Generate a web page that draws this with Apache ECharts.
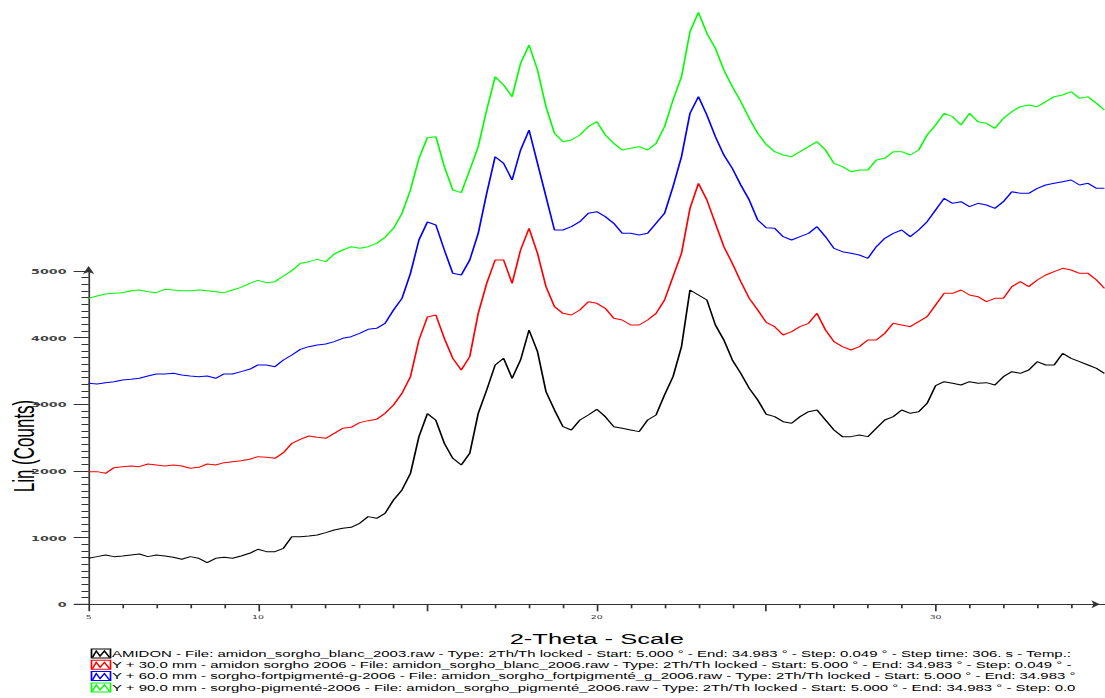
<!DOCTYPE html>
<html>
<head>
<meta charset="utf-8">
<title>2-Theta - Scale</title>
<script src="https://cdn.jsdelivr.net/npm/echarts@6/dist/echarts.min.js"></script>
<style>
  html, body { margin: 0; padding: 0; background: #ffffff; overflow: hidden; width: 1105px; height: 698px; }
  #chart { position: absolute; left: 0; top: 0; height: 698px; transform-origin: 0 0; }
</style>
</head>
<body>
<div id="chart"></div>
<script>
// Diffractogram is drawn in a narrow frame and stretched horizontally, like the instrument export.
const STRETCH = 1.7;
const PAGE_W = 1105;

// 2-theta sampling (degrees)
const thetaStart = 5.0;
const thetaStep = 0.25;
const thetaEnd = 34.983;

// Plotted intensities (Lin counts, including the Y offsets of the stacked scans)
const amidon = [
  690, 715, 740, 715, 725, 740, 755, 715, 740, 725,
  705, 675, 715, 690, 625, 690, 705, 690, 725, 765,
  825, 790, 790, 840, 1015, 1015, 1025, 1040, 1075, 1115,
  1140, 1155, 1215, 1315, 1290, 1365, 1565, 1715, 1965, 2515,
  2860, 2760, 2415, 2190, 2090, 2265, 2865, 3215, 3590, 3690,
  3390, 3665, 4115, 3790, 3190, 2915, 2665, 2615, 2765, 2840,
  2925, 2815, 2665, 2640, 2615, 2590, 2765, 2840, 3140, 3415,
  3865, 4715, 4640, 4565, 4190, 3965, 3665, 3465, 3240, 3065,
  2850, 2815, 2740, 2715, 2815, 2890, 2915, 2765, 2615, 2515,
  2515, 2540, 2515, 2640, 2765, 2815, 2915, 2865, 2890, 3015,
  3280, 3340, 3315, 3290, 3340, 3315, 3325, 3290, 3415, 3490,
  3465, 3515, 3640, 3590, 3590, 3765, 3690, 3640, 3590, 3540,
  3465
];
const sorgho2006 = [
  1990, 1990, 1965, 2050, 2065, 2075, 2065, 2105, 2090, 2075,
  2090, 2075, 2040, 2055, 2105, 2090, 2125, 2140, 2155, 2175,
  2215, 2205, 2190, 2275, 2415, 2475, 2525, 2505, 2490, 2565,
  2640, 2655, 2725, 2755, 2775, 2865, 2990, 3165, 3415, 3965,
  4310, 4340, 3990, 3690, 3515, 3715, 4365, 4815, 5165, 5165,
  4815, 5315, 5640, 5265, 4765, 4465, 4365, 4340, 4415, 4540,
  4515, 4440, 4290, 4265, 4190, 4190, 4265, 4365, 4565, 4915,
  5265, 5940, 6315, 6065, 5715, 5365, 5115, 4840, 4590, 4415,
  4230, 4165, 4040, 4090, 4165, 4215, 4365, 4115, 3940, 3865,
  3815, 3865, 3965, 3965, 4065, 4215, 4190, 4165, 4240, 4315,
  4490, 4665, 4665, 4715, 4640, 4615, 4540, 4590, 4590, 4765,
  4840, 4765, 4865, 4940, 4990, 5040, 5015, 4965, 4965, 4865,
  4740
];
const fortPigmente = [
  3315, 3305, 3325, 3340, 3365, 3375, 3390, 3425, 3455, 3455,
  3465, 3440, 3425, 3415, 3425, 3390, 3455, 3455, 3490, 3525,
  3590, 3590, 3565, 3665, 3740, 3825, 3865, 3890, 3905, 3940,
  3990, 4015, 4065, 4125, 4140, 4215, 4415, 4590, 4965, 5465,
  5735, 5690, 5315, 4965, 4940, 5165, 5565, 6165, 6715, 6615,
  6365, 6815, 7115, 6615, 6115, 5615, 5615, 5665, 5740, 5865,
  5890, 5815, 5715, 5565, 5565, 5540, 5565, 5715, 5865, 6265,
  6715, 7365, 7615, 7340, 7015, 6740, 6540, 6290, 6065, 5765,
  5650, 5640, 5515, 5465, 5515, 5565, 5665, 5515, 5340, 5290,
  5265, 5240, 5190, 5365, 5490, 5565, 5615, 5515, 5615, 5740,
  5915, 6090, 6015, 6040, 5965, 6015, 5990, 5940, 6040, 6190,
  6165, 6165, 6240, 6290, 6315, 6340, 6365, 6290, 6315, 6240,
  6240
];
const pigmente = [
  4590, 4625, 4655, 4665, 4675, 4705, 4715, 4690, 4675, 4725,
  4715, 4705, 4705, 4715, 4705, 4690, 4675, 4715, 4755, 4815,
  4860, 4825, 4840, 4925, 5005, 5115, 5140, 5175, 5140, 5255,
  5315, 5365, 5340, 5365, 5415, 5505, 5640, 5865, 6215, 6690,
  7000, 7015, 6565, 6215, 6175, 6515, 6865, 7415, 7915, 7790,
  7615, 8115, 8390, 8015, 7465, 7065, 6940, 6965, 7040, 7165,
  7240, 7040, 6915, 6815, 6840, 6865, 6815, 6915, 7165, 7565,
  7915, 8590, 8880, 8565, 8340, 8015, 7765, 7540, 7290, 7065,
  6900, 6790, 6740, 6715, 6790, 6865, 6940, 6815, 6615, 6565,
  6490, 6515, 6515, 6665, 6690, 6790, 6790, 6740, 6815, 7040,
  7190, 7365, 7315, 7190, 7365, 7240, 7215, 7140, 7290, 7390,
  7465, 7490, 7465, 7540, 7615, 7640, 7690, 7590, 7615, 7515,
  7415
];

const scanNames = [
  'AMIDON - File: amidon_sorgho_blanc_2003.raw - Type: 2Th/Th locked - Start: 5.000 ° - End: 34.983 ° - Step: 0.049 ° - Step time: 306. s - Temp.:',
  'Y + 30.0 mm - amidon sorgho 2006 - File: amidon_sorgho_blanc_2006.raw - Type: 2Th/Th locked - Start: 5.000 ° - End: 34.983 ° - Step: 0.049 ° -',
  'Y + 60.0 mm - sorgho-fortpigmenté-g-2006 - File: amidon_sorgho_fortpigmenté_g_2006.raw - Type: 2Th/Th locked - Start: 5.000 ° - End: 34.983 °',
  'Y + 90.0 mm - sorgho-pigmenté-2006 - File: amidon_sorgho_pigmenté_2006.raw - Type: 2Th/Th locked - Start: 5.000 ° - End: 34.983 ° - Step: 0.0'
];
const scanColors = ['#000000', '#ff0000', '#0000ff', '#00ff00'];
const scanValues = [amidon, sorgho2006, fortPigmente, pigmente];

const xTicks = { min: 5, max: 35, interval: 5, labelled: [5, 10, 20, 30] };
const yTicks = { min: 0, max: 5000, interval: 1000 };

// theta grid shared by every scan
const theta = [];
for (let i = 0; thetaStart + i * thetaStep < thetaEnd - 0.1; i++) {
  theta.push(+(thetaStart + i * thetaStep).toFixed(3));
}
theta.push(thetaEnd);

// frame geometry in page pixels, converted to the unstretched frame
const sx = v => v / STRETCH;
const frameW = PAGE_W / STRETCH;
const plotLeft = 88.6, plotRight = 88.6 + 30 * 33.97;
const plotTop = 271, plotBottom = 604.3;

const el = document.getElementById('chart');
el.style.width = frameW + 'px';
el.style.transform = 'scaleX(' + STRETCH + ')';

const chart = echarts.init(el, null, { renderer: 'svg', width: frameW, height: 698 });

const series = scanValues.map((vals, k) => ({
  name: scanNames[k],
  type: 'line',
  data: theta.map((t, i) => [t, vals[i]]),
  showSymbol: false,
  symbol: 'none',
  clip: false,
  silent: true,
  lineStyle: { color: scanColors[k], width: 1 },
  itemStyle: { color: scanColors[k] },
  z: 3
}));

// legend rows: outlined box with a small peak trace, then the scan description
const legendRows = scanNames.map((name, k) => {
  const cy = 654 + k * 11.3;
  const bx = sx(91.5), bw = sx(19), bh = 9;
  return {
    type: 'group',
    children: [
      { type: 'rect', shape: { x: bx, y: cy - 5, width: bw, height: bh },
        style: { fill: 'none', stroke: scanColors[k], lineWidth: 1 } },
      { type: 'polyline', shape: { points: [
          [bx + 0.5, cy + 3.5], [bx + bw * 0.25, cy - 3], [bx + bw * 0.45, cy + 2],
          [bx + bw * 0.68, cy - 3], [bx + bw - 0.5, cy + 3.5]] },
        style: { fill: 'none', stroke: scanColors[k], lineWidth: 1 } },
      { type: 'text', x: sx(112), y: cy,
        style: { text: name, fill: '#000', font: '8.8px "Liberation Sans", Arial, sans-serif',
                 textVerticalAlign: 'middle', textAlign: 'left' } }
    ]
  };
});

const option = {
  animation: false,
  backgroundColor: '#ffffff',
  grid: {
    left: sx(plotLeft),
    width: sx(plotRight - plotLeft),
    top: plotTop,
    height: plotBottom - plotTop,
    containLabel: false
  },
  xAxis: {
    type: 'value',
    min: xTicks.min,
    max: xTicks.max,
    interval: xTicks.interval,
    name: '2-Theta - Scale',
    nameLocation: 'middle',
    nameGap: 27,
    nameTextStyle: { fontFamily: '"Liberation Sans", Arial, sans-serif', fontSize: 15, color: '#000' },
    axisLine: { show: true, onZero: false, lineStyle: { color: '#333', width: 1 },
                symbol: ['none', 'arrow'], symbolSize: [6, 5], symbolOffset: [0, -3] },
    axisTick: { show: true, inside: false, length: 7, lineStyle: { color: '#333', width: 1 } },
    minorTick: { show: true, splitNumber: 5, length: 4, lineStyle: { color: '#333', width: 1 } },
    axisLabel: {
      margin: 10, fontSize: 5.5, fontFamily: '"DejaVu Sans", sans-serif', color: '#333',
      showMaxLabel: false,
      formatter: v => (xTicks.labelled.indexOf(v) >= 0 ? String(v) : '')
    },
    splitLine: { show: false }
  },
  yAxis: {
    type: 'value',
    min: yTicks.min,
    max: yTicks.max,
    interval: yTicks.interval,
    axisLine: { show: true, onZero: false, lineStyle: { color: '#333', width: 1 },
                symbol: ['none', 'arrow'], symbolSize: [5, 8], symbolOffset: [0, 5] },
    axisTick: { show: true, inside: false, length: 8.8, lineStyle: { color: '#333', width: 1 } },
    minorTick: { show: true, splitNumber: 10, length: 4.2, lineStyle: { color: '#333', width: 1 } },
    axisLabel: { margin: 13, fontSize: 7.5, fontWeight: 'bold',
                 fontFamily: '"DejaVu Sans", sans-serif', color: '#444',
                 formatter: v => String(Math.round(v)) },
    splitLine: { show: false }
  },
  series: series,
  graphic: [
    // x axis line continues a little to the left of the origin
    { type: 'line', shape: { x1: sx(74), y1: plotBottom, x2: sx(plotLeft), y2: plotBottom },
      style: { stroke: '#333', lineWidth: 1 } },
    { type: 'text', x: sx(24), y: 446, rotation: Math.PI / 2,
      style: { text: 'Lin (Counts)', fill: '#000', font: '17px "Liberation Sans", Arial, sans-serif',
               textAlign: 'center', textVerticalAlign: 'middle' } }
  ].concat(legendRows)
};

chart.setOption(option);
</script>
</body>
</html>
